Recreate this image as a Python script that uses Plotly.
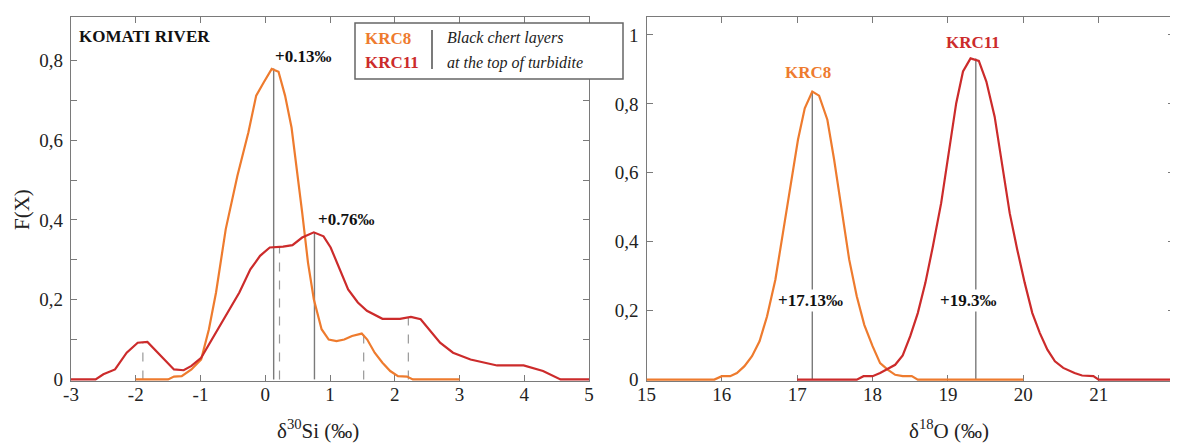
import plotly.graph_objects as go

# --- data ---
si_krc8_x = [-2.0, -1.5, -1.41, -1.29, -1.14, -0.99, -0.87, -0.76, -0.61, -0.43, -0.26, -0.14, -0.02, 0.10,
             0.205, 0.306, 0.406, 0.483, 0.57, 0.66, 0.75, 0.87, 0.98, 1.10, 1.22, 1.34, 1.49, 1.575, 1.69,
             1.81, 1.93, 2.05, 2.19, 2.28, 3.0]
si_krc8_y = [0, 0, 0.007, 0.008, 0.025, 0.05, 0.126, 0.218, 0.377, 0.511, 0.62, 0.712, 0.746, 0.779,
             0.772, 0.712, 0.632, 0.536, 0.419, 0.293, 0.201, 0.126, 0.10, 0.096, 0.10, 0.109, 0.115, 0.10, 0.067,
             0.042, 0.021, 0.008, 0.007, 0, 0]

si_krc11_x = [-3.0, -2.62, -2.5, -2.32, -2.14, -1.97, -1.82, -1.62, -1.41, -1.26, -1.14, -0.99, -0.79, -0.61,
              -0.40, -0.23, -0.08, 0.07, 0.276, 0.42, 0.57, 0.75, 0.90, 1.01, 1.13, 1.28, 1.43, 1.57, 1.81,
              2.08, 2.25, 2.40, 2.70, 2.90, 3.17, 3.58, 3.99, 4.29, 4.56, 5.0]
si_krc11_y = [0, 0, 0.013, 0.025, 0.067, 0.092, 0.094, 0.06, 0.025, 0.023, 0.034, 0.054, 0.109, 0.159,
              0.218, 0.276, 0.31, 0.331, 0.333, 0.337, 0.356, 0.369, 0.359, 0.331, 0.285, 0.226, 0.193, 0.172, 0.152,
              0.152, 0.157, 0.151, 0.092, 0.067, 0.05, 0.035, 0.035, 0.021, 0, 0]

o_krc8_x = [15.0, 15.9, 16.0, 16.11, 16.2, 16.3, 16.4, 16.5, 16.6, 16.71, 16.81, 16.91, 17.01, 17.1, 17.2,
            17.29, 17.4, 17.49, 17.59, 17.69, 17.79, 17.89, 18.0, 18.1, 18.2, 18.3, 18.4, 18.52, 18.6, 20.0]
o_krc8_y = [0, 0, 0.01, 0.01, 0.019, 0.039, 0.068, 0.111, 0.184, 0.29, 0.425, 0.56, 0.696, 0.787, 0.836,
            0.824, 0.754, 0.638, 0.493, 0.348, 0.242, 0.159, 0.097, 0.048, 0.029, 0.014, 0.01, 0.01, 0, 0]

o_krc11_x = [17.0, 17.79, 17.88, 18.0, 18.1, 18.2, 18.3, 18.4, 18.5, 18.6, 18.7, 18.8, 18.91, 19.01, 19.11,
             19.2, 19.3, 19.41, 19.51, 19.62, 19.72, 19.82, 19.92, 20.02, 20.12, 20.22, 20.32, 20.42, 20.53,
             20.68, 20.78, 20.93, 21.0, 22.0]
o_krc11_y = [0, 0, 0.01, 0.01, 0.019, 0.031, 0.043, 0.07, 0.126, 0.193, 0.28, 0.386, 0.512, 0.657, 0.802,
             0.894, 0.932, 0.925, 0.865, 0.763, 0.628, 0.483, 0.377, 0.28, 0.193, 0.135, 0.087, 0.053, 0.034,
             0.019, 0.012, 0.01, 0, 0]

# medians (solid) and secondary modes (dashed)
si_median_x = [0.13, 0.76]
si_median_y = [0.78, 0.369]
si_median_txt = ["+0.13‰", "+0.76‰"]
si_mode_x = [-1.89, 0.22, 1.52, 2.21]
si_mode_y = [0.094, 0.333, 0.112, 0.155]
o_median_x = [17.2, 19.37]
o_median_y = [0.836, 0.932]
o_median_txt = ["+17.13‰", "+19.3‰"]

si_xticks = [-3, -2, -1, 0, 1, 2, 3, 4, 5]
si_xtext = ["-3", "-2", "-1", "0", "1", "2", "3", "4", "5"]
o_xticks = [15, 16, 17, 18, 19, 20, 21, 22]
si_yticks = [0, 0.1, 0.2, 0.3, 0.4, 0.5, 0.6, 0.7, 0.8]
si_ytext = ["0", "", "0,2", "", "0,4", "", "0,6", "", "0,8"]
o_yticks = [0, 0.2, 0.4, 0.6, 0.8, 1.0]
o_ytext = ["0", "0,2", "0,4", "0,6", "0,8", "1"]

ORANGE = "#EE7B2E"
RED = "#CC2B2B"
GREY = "#7a7a7a"
FONT = "Liberation Serif"
# the page body keeps its 8px margin, so the figure is drawn 8px smaller and shifted
OFF = 8
W, H = 1178 - OFF, 443 - OFF


def px(x):
    return (x - OFF) / W


def py(y):
    return 1 - (y - OFF) / H


fig = go.Figure()

fig.add_trace(go.Scatter(x=si_krc8_x, y=si_krc8_y, mode="lines", line=dict(color=ORANGE, width=2.2),
                         xaxis="x", yaxis="y"))
fig.add_trace(go.Scatter(x=si_krc11_x, y=si_krc11_y, mode="lines", line=dict(color=RED, width=2.2),
                         xaxis="x", yaxis="y"))
fig.add_trace(go.Scatter(x=o_krc8_x, y=o_krc8_y, mode="lines", line=dict(color=ORANGE, width=2.2),
                         xaxis="x2", yaxis="y2"))
fig.add_trace(go.Scatter(x=o_krc11_x, y=o_krc11_y, mode="lines", line=dict(color=RED, width=2.2),
                         xaxis="x2", yaxis="y2"))

for x, y in zip(si_median_x, si_median_y):
    fig.add_shape(type="line", xref="x", yref="y", x0=x, x1=x, y0=0, y1=y,
                  line=dict(color=GREY, width=1.4), layer="below")
for x, y in zip(si_mode_x, si_mode_y):
    fig.add_shape(type="line", xref="x", yref="y", x0=x, x1=x, y0=0, y1=y,
                  line=dict(color="#999", width=1.2, dash="dash"), layer="below")
for x, y in zip(o_median_x, o_median_y):
    fig.add_shape(type="line", xref="x2", yref="y2", x0=x, x1=x, y0=0, y1=y,
                  line=dict(color=GREY, width=1.4), layer="below")


def note(x, y, text, size=17, color="#111", xref="paper", yref="paper", xanchor="center", **kw):
    fig.add_annotation(x=x, y=y, xref=xref, yref=yref, text=text, showarrow=False, xanchor=xanchor,
                       yanchor="middle", font=dict(family=FONT, size=size, color=color), **kw)


# annotations
note(0.583, 0.81, "<b>" + si_median_txt[0] + "</b>", xref="x", yref="y")
note(1.247, 0.40, "<b>" + si_median_txt[1] + "</b>", xref="x", yref="y")
note(px(77), py(37), "<b>KOMATI RIVER</b>", xanchor="left")

for x, t in zip([17.18, 19.26], o_median_txt):
    note(x, 0.23, "<b>" + t + "</b>", xref="x2", yref="y2", bgcolor="white", borderpad=1)
note(17.14, 0.89, "<b>KRC8</b>", color=ORANGE, xref="x2", yref="y2")
note(19.33, 0.978, "<b>KRC11</b>", color=RED, xref="x2", yref="y2")

# legend box
fig.add_shape(type="rect", xref="paper", yref="paper", x0=px(355), x1=px(623), y0=py(79), y1=py(23),
              line=dict(color="#666", width=1.5), fillcolor="white", layer="above")
fig.add_shape(type="line", xref="paper", yref="paper", x0=px(432), x1=px(432), y0=py(69), y1=py(30),
              line=dict(color="#333", width=1.3), layer="above")
note(px(363), py(38), "<b>KRC8</b>", color=ORANGE, xanchor="left")
note(px(363), py(63), "<b>KRC11</b>", color=RED, xanchor="left")
note(px(445), py(38), "<i>Black chert layers</i>", size=16, color="#222", xanchor="left")
note(px(445), py(63), "<i>at the top of turbidite</i>", size=16, color="#222", xanchor="left")

# axis titles
note(px(318), py(429), "δ<sup>30</sup>Si (‰)", size=21, color="#222")
note(px(949), py(429), "δ<sup>18</sup>O (‰)", size=21, color="#222")
note(px(22), py(210), "F(X)", size=21, color="#222", textangle=-90)

axis_common = dict(showline=True, linecolor=GREY, linewidth=1.3, mirror="ticks", ticks="inside", ticklen=6,
                   tickcolor=GREY, tickwidth=1.2, showgrid=False, zeroline=False, automargin=False,
                   layer="below traces", tickfont=dict(family=FONT, size=19, color="#222"))

fig.update_layout(
    width=W, height=H,
    margin=dict(l=0, r=0, t=0, b=0, pad=0),
    paper_bgcolor="white", plot_bgcolor="white",
    showlegend=False,
    xaxis=dict(domain=[px(71), px(589)], range=[-3, 5], tickvals=si_xticks, ticktext=si_xtext,
               anchor="y", ticklabelstandoff=-4, **axis_common),
    yaxis=dict(domain=[py(381), py(16.7)], range=[-0.004, 0.91], tickvals=si_yticks, ticktext=si_ytext,
               anchor="x", ticklabelstandoff=3, **axis_common),
    xaxis2=dict(domain=[px(646.5), px(1174)], range=[15, 22], tickvals=o_xticks, anchor="y2",
                ticklabelstandoff=-4, **axis_common),
    yaxis2=dict(domain=[py(381), py(16.7)], range=[-0.004, 1.053], tickvals=o_yticks, ticktext=o_ytext,
                anchor="x2", ticklabelstandoff=3, **axis_common),
)

fig.write_html("out.html")
